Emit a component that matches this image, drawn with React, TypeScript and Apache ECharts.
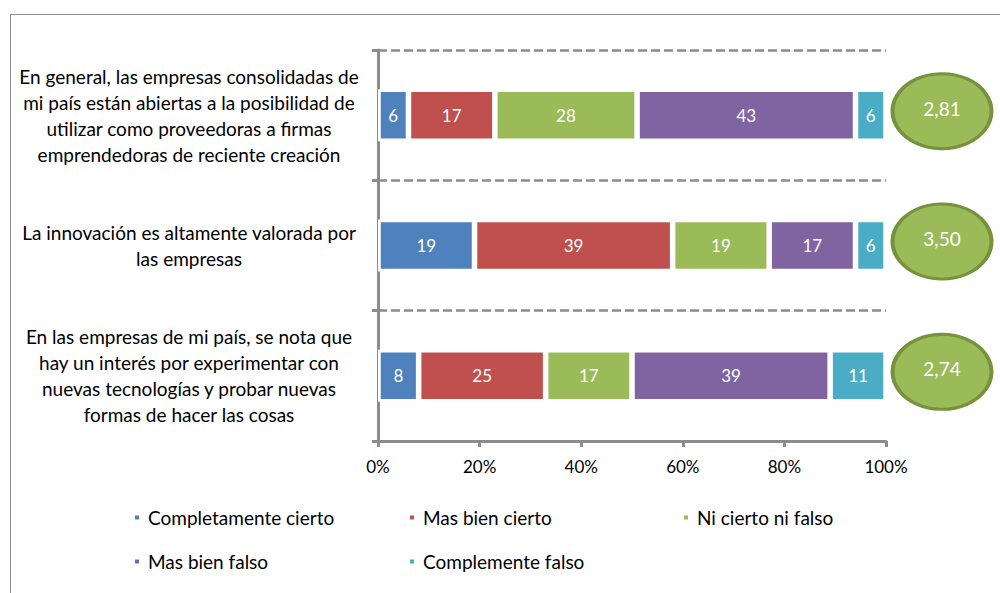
import React, { useEffect, useRef } from "react";
import * as echarts from "echarts";

const categories = [
  "En general, las empresas consolidadas de\nmi país están abiertas a la posibilidad de\nutilizar como proveedoras a firmas\nemprendedoras de reciente creación",
  "La innovación es altamente valorada por\nlas empresas",
  "En las empresas de mi país, se nota que\nhay un interés por experimentar con\nnuevas tecnologías y probar nuevas\nformas de hacer las cosas",
];

const seriesNames = [
  "Completamente cierto",
  "Mas bien cierto",
  "Ni cierto ni falso",
  "Mas bien falso",
  "Complemente falso",
];

const completamenteCierto = [6, 19, 8];
const masBienCierto = [17, 39, 25];
const niCiertoNiFalso = [28, 19, 17];
const masBienFalso = [43, 17, 39];
const complementeFalso = [6, 6, 11];

const means = [2.81, 3.5, 2.74];

const xTicks = [0, 20, 40, 60, 80, 100];

const colors = ["#4F81BD", "#C0504D", "#9BBB59", "#8064A2", "#4BACC6"];

const FONT = "Lato";

export default function App() {
  const ref = useRef<HTMLDivElement>(null);

  useEffect(() => {
    if (!ref.current) return;
    const chart = echarts.init(ref.current, null, { renderer: "svg" });
    const values = [
      completamenteCierto,
      masBienCierto,
      niCiertoNiFalso,
      masBienFalso,
      complementeFalso,
    ];
    const legendPos = [
      { left: 133, top: 508 },
      { left: 408, top: 508 },
      { left: 682, top: 508 },
      { left: 133, top: 552 },
      { left: 408, top: 552 },
    ];
    const axisColor = "#8c8c8c";
    const option: any = {
      animation: false,
      textStyle: { fontFamily: FONT },
      graphic: [
        {
          type: "rect",
          shape: { x: 10.5, y: 14.5, width: 1100, height: 700 },
          style: { fill: "none", stroke: "#8f8f8f", lineWidth: 1 },
          silent: true,
        },
      ],
      legend: seriesNames.map((n, i) => ({
        data: [n],
        left: legendPos[i].left,
        top: legendPos[i].top,
        padding: 0,
        itemWidth: 6,
        itemHeight: 6,
        icon: "rect",
        selectedMode: false,
        textStyle: {
          fontFamily: FONT,
          fontSize: 19,
          color: "#000",
          padding: [0, 0, 0, 3],
        },
      })),
      grid: [
        { left: 378, right: 114, top: 50, bottom: 152 },
        { left: 891, width: 102, top: 50, bottom: 152 },
      ],
      xAxis: [
        {
          type: "value",
          gridIndex: 0,
          min: 0,
          max: 100,
          interval: 20,
          axisLine: { show: true, lineStyle: { color: axisColor, width: 3 } },
          axisTick: { show: true, length: 6, lineStyle: { color: axisColor, width: 3 } },
          splitLine: { show: false },
          axisLabel: {
            formatter: (v: number) => (xTicks.includes(v) ? v + "%" : ""),
            fontSize: 17,
            color: "#000",
            margin: 17,
            fontFamily: FONT,
          },
        },
        {
          type: "value",
          gridIndex: 1,
          min: -1,
          max: 1,
          show: false,
        },
      ],
      yAxis: [
        {
          type: "category",
          gridIndex: 0,
          inverse: true,
          data: categories,
          axisLine: { show: true, lineStyle: { color: axisColor, width: 3 } },
          axisTick: { show: true, length: 6, lineStyle: { color: axisColor, width: 3 } },
          splitLine: {
            show: true,
            lineStyle: { color: axisColor, width: 2.5, type: [9, 4] },
          },
          axisLabel: {
            align: "center",
            margin: 189,
            fontSize: 19,
            lineHeight: 26,
            color: "#000",
            fontFamily: FONT,
          },
        },
        {
          type: "category",
          gridIndex: 1,
          inverse: true,
          data: categories,
          show: false,
        },
      ],
      series: [
        ...seriesNames.map((n, i) => ({
          name: n,
          type: "bar",
          stack: "total",
          xAxisIndex: 0,
          yAxisIndex: 0,
          barWidth: 52,
          data: values[i],
          itemStyle: { color: colors[i], borderColor: "#fff", borderWidth: 2.75 },
          label: {
            show: true,
            position: "inside",
            color: "#fff",
            fontSize: 17,
            fontFamily: FONT,
          },
        })),
        {
          name: "Media",
          type: "scatter",
          xAxisIndex: 1,
          yAxisIndex: 1,
          symbol: "circle",
          symbolSize: [99, 75],
          symbolOffset: [0, -4],
          data: means.map((m, i) => [0, i, m]),
          itemStyle: { color: "#9BBB59", borderColor: "#76923C", borderWidth: 3.5, opacity: 1 },
          label: {
            show: true,
            position: "inside",
            offset: [0, -3],
            color: "#fff",
            fontSize: 19,
            fontFamily: FONT,
            formatter: (p: any) => means[p.dataIndex].toFixed(2).replace(".", ","),
          },
          clip: false,
        },
      ],
    };
    chart.setOption(option);
    return () => chart.dispose();
  }, []);

  return (
    <div
      ref={ref}
      style={{ position: "absolute", left: 0, top: 0, width: 1000, height: 593 }}
    />
  );
}
